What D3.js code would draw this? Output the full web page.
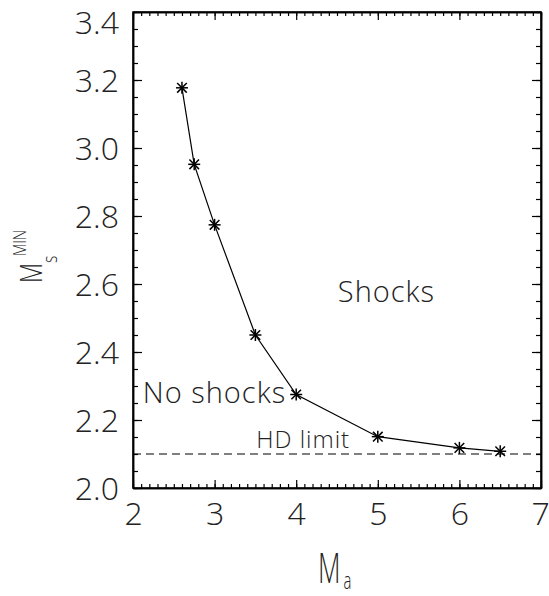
<!DOCTYPE html>
<html>
<head>
<meta charset="utf-8">
<script src="https://cdn.jsdelivr.net/npm/d3@7"></script>
<style>
  body { margin: 0; background: #fff; }
  svg text { font-family: "Open Sans", "DejaVu Sans", sans-serif; font-weight: 300; fill: #222; }
</style>
</head>
<body>
<div id="chart"></div>
<script>
// data
const maValues = [2.6, 2.75, 3.0, 3.5, 4.0, 5.0, 6.0, 6.5];
const msMinValues = [3.177, 2.952, 2.774, 2.45, 2.275, 2.151, 2.118, 2.108];
const hdLimit = 2.1;
const xTickValues = [2, 3, 4, 5, 6, 7];
const yTickValues = [2.0, 2.2, 2.4, 2.6, 2.8, 3.0, 3.2, 3.4];
const notes = [
    { text: "Shocks", x: 4.51, y: 2.547, size: 29 },
    { text: "No shocks", x: 2.12, y: 2.25, size: 29 },
    { text: "HD limit", x: 3.51, y: 2.118, size: 24 }
];

const W = 549, H = 596;
const pLeft = 133, pRight = 541, pTop = 12, pBottom = 488;

const svg = d3.select("#chart").append("svg")
    .attr("width", W).attr("height", H);

const x = d3.scaleLinear().domain([2, 7]).range([pLeft, pRight]);
const y = d3.scaleLinear().domain([2, 3.4]).range([pBottom, pTop]);

// minor ticks
const xMinor = d3.range(2, 7.001, 0.1);
const yMinor = d3.range(2, 3.4001, 0.05);

// axes: ticks pointing inward, labels on bottom/left only
function styleAxis(g) {
    g.select(".domain").attr("stroke", "#000").attr("stroke-width", 1.5);
    g.selectAll(".tick line").attr("stroke", "#000").attr("stroke-width", 1.2);
}

// bottom
svg.append("g").attr("transform", `translate(0,${pBottom})`)
    .call(d3.axisBottom(x).tickValues(xMinor).tickSize(-4).tickSizeOuter(0).tickFormat(""))
    .call(styleAxis);
svg.append("g").attr("transform", `translate(0,${pBottom})`)
    .call(d3.axisBottom(x).tickValues(xTickValues).tickSize(-8).tickSizeOuter(0).tickPadding(37).tickFormat(d3.format("d")))
    .call(styleAxis)
    .call(g => g.selectAll("text").attr("font-size", 32).attr("dy", 0)
        .filter(d => d === 7).attr("dx", -1));
// top
svg.append("g").attr("transform", `translate(0,${pTop})`)
    .call(d3.axisTop(x).tickValues(xMinor).tickSize(-4).tickSizeOuter(0).tickFormat(""))
    .call(styleAxis);
svg.append("g").attr("transform", `translate(0,${pTop})`)
    .call(d3.axisTop(x).tickValues(xTickValues).tickSize(-8).tickSizeOuter(0).tickFormat(""))
    .call(styleAxis);
// left
svg.append("g").attr("transform", `translate(${pLeft},0)`)
    .call(d3.axisLeft(y).tickValues(yMinor).tickSize(-5).tickSizeOuter(0).tickFormat(""))
    .call(styleAxis);
svg.append("g").attr("transform", `translate(${pLeft},0)`)
    .call(d3.axisLeft(y).tickValues(yTickValues).tickSize(-9).tickSizeOuter(0).tickPadding(14).tickFormat(d3.format(".1f")))
    .call(styleAxis)
    .call(g => g.selectAll("text").attr("font-size", 32).attr("dy", "0.36em")
        .filter(d => d === 3.4).attr("dy", "0.68em"));
// right
svg.append("g").attr("transform", `translate(${pRight},0)`)
    .call(d3.axisRight(y).tickValues(yMinor).tickSize(-5).tickSizeOuter(0).tickFormat(""))
    .call(styleAxis);
svg.append("g").attr("transform", `translate(${pRight},0)`)
    .call(d3.axisRight(y).tickValues(yTickValues).tickSize(-9).tickSizeOuter(0).tickFormat(""))
    .call(styleAxis);

// frame
svg.append("rect")
    .attr("x", pLeft).attr("y", pTop)
    .attr("width", pRight - pLeft).attr("height", pBottom - pTop)
    .attr("fill", "none").attr("stroke", "#000").attr("stroke-width", 1.5);

// HD limit dashed line
svg.append("line")
    .attr("x1", x(2)).attr("x2", x(7))
    .attr("y1", y(hdLimit)).attr("y2", y(hdLimit))
    .attr("stroke", "#000").attr("stroke-width", 1.2)
    .attr("stroke-dasharray", "8,5");

// curve
const pts = maValues.map((d, i) => [d, msMinValues[i]]);
svg.append("path")
    .datum(pts)
    .attr("fill", "none").attr("stroke", "#000").attr("stroke-width", 1.2)
    .attr("d", d3.line().x(d => x(d[0])).y(d => y(d[1])));

// asterisk markers
const star = svg.selectAll(".star").data(pts).enter().append("g")
    .attr("class", "star")
    .attr("transform", d => `translate(${x(d[0])},${y(d[1])})`);
const s = 6;
[[-s, 0, s, 0], [0, -s, 0, s], [-s * 0.8, -s * 0.8, s * 0.8, s * 0.8], [-s * 0.8, s * 0.8, s * 0.8, -s * 0.8]]
    .forEach(l => {
        star.append("line")
            .attr("x1", l[0]).attr("y1", l[1]).attr("x2", l[2]).attr("y2", l[3])
            .attr("stroke", "#000").attr("stroke-width", 1.5);
    });

// annotations
svg.selectAll(".note").data(notes).enter().append("text")
    .attr("class", "note")
    .attr("x", d => x(d.x)).attr("y", d => y(d.y))
    .attr("font-size", d => d.size)
    .attr("letter-spacing", 1)
    .text(d => d.text);

// x axis title M_a (squeezed horizontally like the narrow plot font)
const xt = svg.append("text")
    .attr("transform", "translate(318,583) scale(0.62,1)")
    .attr("font-size", 42);
xt.append("tspan").text("M");
xt.append("tspan").attr("dx", 5).attr("dy", 6).attr("font-size", 24).text("a");

// y axis title M_s^MIN (rotated)
const yt = svg.append("text")
    .attr("transform", "translate(42,283) rotate(-90) scale(0.75,1)")
    .attr("font-size", 31);
yt.append("tspan").attr("x", 0).attr("y", 0).text("M");
yt.append("tspan").attr("dy", 15).attr("font-size", 21).text("s");
yt.append("tspan").attr("x", 36).attr("dy", -31).attr("font-size", 19).text("MIN");
</script>
</body>
</html>
